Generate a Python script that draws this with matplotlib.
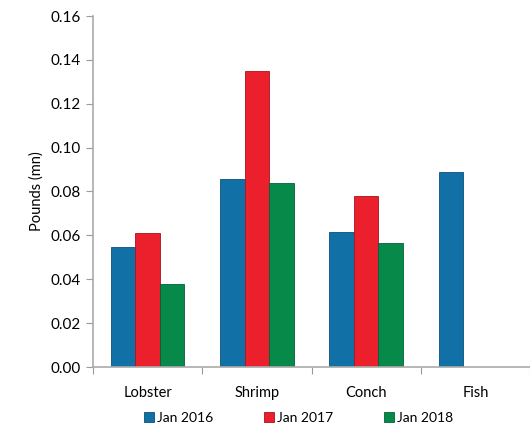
import numpy as np
import matplotlib
matplotlib.use("Agg")
import matplotlib.pyplot as plt

#  data
categories = ["Lobster", "Shrimp", "Conch", "Fish"]
jan_2016 = [0.0547, 0.0857, 0.0615, 0.0889]
jan_2017 = [0.0610, 0.1350, 0.0780, np.nan]
jan_2018 = [0.0378, 0.0839, 0.0565, np.nan]
series_names = ["Jan 2016", "Jan 2017", "Jan 2018"]
y_ticks = [0.00, 0.02, 0.04, 0.06, 0.08, 0.10, 0.12, 0.14, 0.16]

#  plot settings
plt.rcParams["font.family"] = ["Lato", "DejaVu Sans"]
colors = ["#1170a6", "#ec1f2d", "#07894a"]
edges = ["#0b4f78", "#a8141f", "#05603a"]

fig = plt.figure(figsize=(5.3, 4.36), dpi=100)
ax = fig.add_axes([93 / 530, 1 - 367 / 436, 1 - 93 / 530, 351 / 436])

x = np.arange(len(categories))
width = 0.224
for i, vals in enumerate([jan_2016, jan_2017, jan_2018]):
    ax.bar(x + (i - 1) * width, vals, width, color=colors[i],
           edgecolor=edges[i], linewidth=0.6, label=series_names[i])

ax.set_xlim(-0.5, len(categories) - 0.5)
ax.set_ylim(0, 0.16)
ax.set_yticks(y_ticks)
ax.set_yticklabels(["%.2f" % t for t in y_ticks], fontsize=11)
ax.set_ylabel("Pounds (mn)", fontsize=10.5, labelpad=5)

#  category ticks at boundaries, labels at centers
ax.set_xticks(np.arange(len(categories) + 1) - 0.5)
ax.set_xticklabels([])
ax.set_xticks(x, minor=True)
ax.set_xticklabels(categories, minor=True, fontsize=10.5)
ax.tick_params(axis="x", which="major", length=5, color="#999999")
ax.tick_params(axis="x", which="minor", length=0, pad=14)
ax.tick_params(axis="y", length=5, color="#999999")

for s in ["top", "right"]:
    ax.spines[s].set_visible(False)
for s in ["left", "bottom"]:
    ax.spines[s].set_color("#aaaaaa")
    ax.spines[s].set_linewidth(1.2)

fig.legend(loc="lower center", bbox_to_anchor=(0.563, 0.0), ncol=3,
           frameon=False, fontsize=10, handlelength=0.7, handleheight=0.7,
           handletextpad=0.2, columnspacing=3.7)

fig.savefig("out.png", dpi=100)
